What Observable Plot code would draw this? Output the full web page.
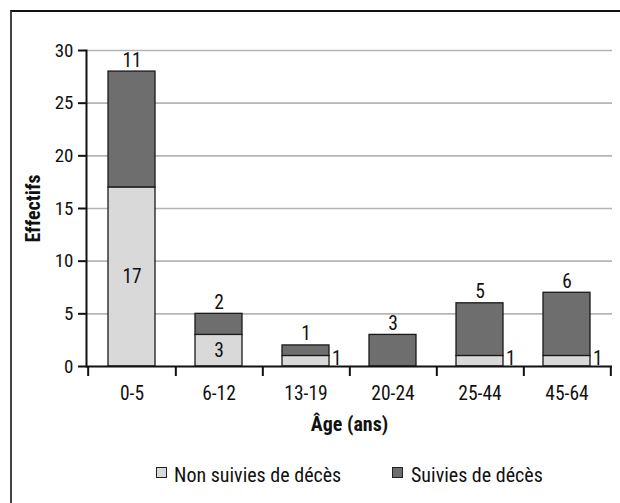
<!DOCTYPE html>
<html><head><meta charset="utf-8">
<script src="https://cdn.jsdelivr.net/npm/d3@7"></script>
<script src="https://cdn.jsdelivr.net/npm/@observablehq/plot@0.6"></script>
<style>
  body { margin: 0; background: #fff; }
  #wrap { position: relative; width: 620px; height: 503px; overflow: hidden; font-family: 'Roboto Condensed', 'Roboto', sans-serif; color: #111; }
  #frame { position: absolute; left: 10px; top: 10px; width: 700px; height: 600px; border-top: 2px solid #111; border-left: 2px solid #444; }
  #chart { position: absolute; left: 0; top: 0; }
  .lg-box { position: absolute; width: 9px; height: 9px; border: 1px solid #222; top: 467px; }
  .lg-txt { position: absolute; top: 465px; font-size: 20px; line-height: 20px; white-space: nowrap; }
</style>
</head><body>
<div id="wrap">
  <div id="frame"></div>
  <div id="chart"></div>
  <div id="legend"></div>
</div>
<script>
// ---- data ----
const categories = ["0-5", "6-12", "13-19", "20-24", "25-44", "45-64"];
const seriesNames = ["Non suivies de décès", "Suivies de décès"];
const nonSuivies = [17, 3, 1, 0, 1, 1];
const suivies = [11, 2, 1, 3, 5, 6];
const yTicks = [0, 5, 10, 15, 20, 25, 30];
const colors = ["#d9d9d9", "#6e6e6e"];

// ---- derived table ----
const rows = [];
categories.forEach((c, i) => {
  rows.push({cat: c, serie: seriesNames[0], value: nonSuivies[i]});
  rows.push({cat: c, serie: seriesNames[1], value: suivies[i]});
});
const totals = categories.map((c, i) => ({cat: c, total: nonSuivies[i] + suivies[i], label: suivies[i]}));
const lower = categories.map((c, i) => ({cat: c, v: nonSuivies[i]}));

const W = 620, H = 440, mL = 86, mR = 8, mT = 50, mB = 74;
const half = (W - mL - mR) / categories.length / 2;

const chart = Plot.plot({
  width: W, height: H,
  marginLeft: mL, marginRight: mR, marginTop: mT, marginBottom: mB,
  style: "font-family:'Roboto Condensed','Roboto',sans-serif;font-size:19px;color:#111;background:transparent;",
  x: {domain: categories, paddingInner: 0.464, paddingOuter: 0.232, label: null},
  y: {domain: [0, 30], label: null},
  color: {domain: seriesNames, range: colors},
  marks: [
    Plot.gridY(yTicks.filter(t => t > 0), {stroke: "#b5b5b5", strokeOpacity: 1, strokeWidth: 1.6}),
    Plot.barY(rows, {x: "cat", y: "value", fill: "serie", stroke: "#1a1a1a", strokeWidth: 1.3}),
    Plot.ruleY([0], {stroke: "#111", strokeWidth: 2}),
    Plot.frame({anchor: "left", stroke: "#111", strokeWidth: 2}),
    Plot.axisY({ticks: yTicks, tickSize: 8, tickPadding: 5, strokeWidth: 2, fontSize: 19, label: null}),
    Plot.axisX({tickSize: 10, tickFormat: () => "", dx: half, strokeWidth: 2, label: null}),
    Plot.axisX({ticks: [categories[0]], tickSize: 10, tickFormat: () => "", dx: -half, strokeWidth: 2, label: null}),
    Plot.axisX({tickSize: 0, tickPadding: 20, fontSize: 19.5, label: null}),
    // value labels
    Plot.text(totals, {x: "cat", y: "total", text: "label", lineAnchor: "bottom", dy: -5, fontSize: 19.5, fill: "#111"}),
    Plot.text(lower.filter(d => d.v >= 2), {x: "cat", y: d => d.v / 2, text: "v", lineAnchor: "middle", fontSize: 19.5, fill: "#111"}),
    Plot.text(lower.filter(d => d.v === 1), {x: "cat", y: d => d.v / 2, text: "v", textAnchor: "start", dx: 26, dy: -2, lineAnchor: "middle", fontSize: 19.5, fill: "#111"}),
    // axis titles
    Plot.text(["Âge (ans)"], {frameAnchor: "bottom", dy: 58, textAnchor: "middle", lineAnchor: "middle", fontWeight: "bold", fontSize: 20, fill: "#111"}),
    Plot.text(["Effectifs"], {frameAnchor: "left", dx: -53, rotate: -90, textAnchor: "middle", lineAnchor: "middle", fontWeight: "bold", fontSize: 20, fill: "#111"})
  ]
});
document.getElementById("chart").appendChild(chart);

// ---- legend ----
const legend = document.getElementById("legend");
const lgPos = [{box: 156, txt: 174}, {box: 392, txt: 411}];
seriesNames.forEach((name, i) => {
  const b = document.createElement("div");
  b.className = "lg-box";
  b.style.left = lgPos[i].box + "px";
  b.style.background = colors[i];
  legend.appendChild(b);
  const t = document.createElement("div");
  t.className = "lg-txt";
  t.style.left = lgPos[i].txt + "px";
  t.textContent = name;
  legend.appendChild(t);
});
</script>
</body></html>
